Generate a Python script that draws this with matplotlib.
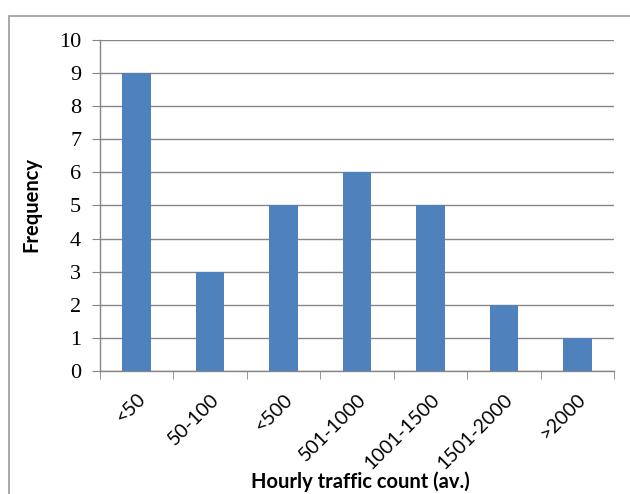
import matplotlib
matplotlib.use("Agg")
import matplotlib.pyplot as plt
from matplotlib.patches import Rectangle

categories = ["<50", "50-100", "<500", "501-1000", "1001-1500", "1501-2000", ">2000"]
frequency = [9, 3, 5, 6, 5, 2, 1]
y_ticks = list(range(0, 11))

bar_color = "#4F81BD"
grid_color = "#868686"

fig = plt.figure(figsize=(6.30, 4.94), dpi=100)
fig.patch.set_facecolor("white")

# Chart frame
fig.patches.append(Rectangle((9 / 630, -0.01), 1.0, 1 - 16 / 494 + 0.01,
                             transform=fig.transFigure, fill=False,
                             edgecolor="#9a9a9a", linewidth=1.2))

ax = fig.add_axes([100 / 630, 1 - 371 / 494, (614 - 100) / 630, (371 - 40) / 494])
x = list(range(len(categories)))
ax.bar(x, frequency, width=0.39, color=bar_color, zorder=3)

ax.set_xlim(-0.5, len(categories) - 0.5)
ax.set_ylim(0, 10)
ax.set_yticks(y_ticks)
ax.set_yticklabels([str(v) for v in y_ticks], fontfamily="Liberation Serif", fontsize=16)
ax.yaxis.grid(True, color=grid_color, linewidth=1.0, zorder=0)
ax.tick_params(axis="y", direction="out", length=5.5, color=grid_color, pad=8)

# Category labels at bar centres, tick marks on category boundaries
ax.set_xticks(x)
ax.set_xticklabels(categories, rotation=45, ha="right", rotation_mode="anchor",
                   fontfamily="Lato", fontsize=14)
ax.tick_params(axis="x", which="major", length=0, pad=14)
ax.set_xticks([i - 0.5 for i in range(len(categories) + 1)], minor=True)
ax.tick_params(axis="x", which="minor", direction="out", length=6, color=grid_color)

for side in ["top", "right"]:
    ax.spines[side].set_visible(False)
for side in ["left", "bottom"]:
    ax.spines[side].set_color(grid_color)
    ax.spines[side].set_linewidth(1.0)

fig.text(360 / 630, 1 - 482 / 494, "Hourly traffic count (av.)", ha="center", va="center",
         fontfamily="Lato", fontweight="bold", fontsize=14.5)
fig.text(31 / 630, 1 - 205 / 494, "Frequency", ha="center", va="center", rotation=90,
         fontfamily="Lato", fontweight="bold", fontsize=14.5)

fig.savefig("out.png", dpi=100)
